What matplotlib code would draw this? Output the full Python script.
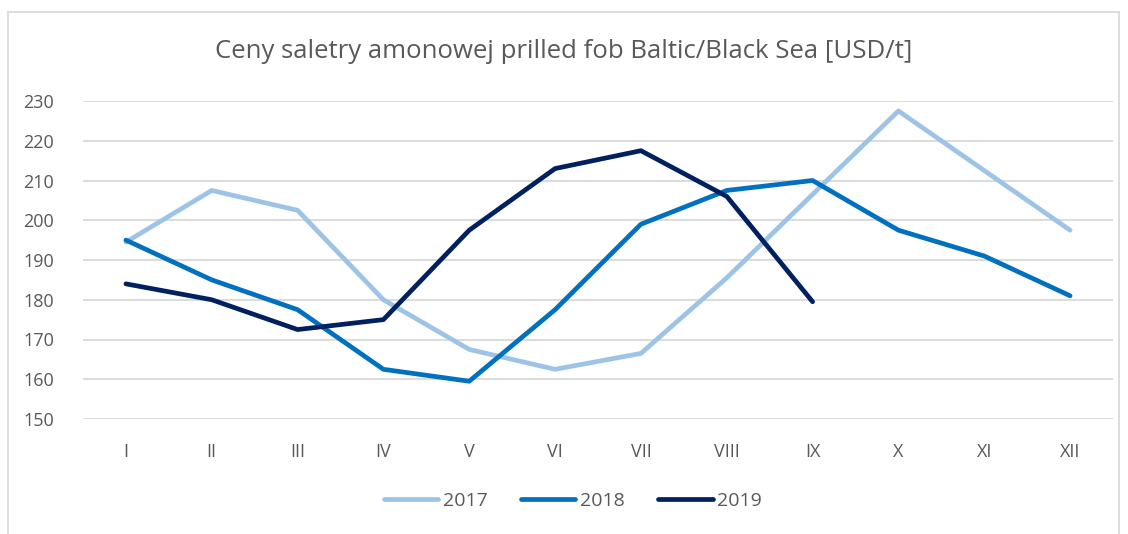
import matplotlib.pyplot as plt
from matplotlib.patches import Rectangle

months = ["I", "II", "III", "IV", "V", "VI", "VII", "VIII", "IX", "X", "XI", "XII"]
prices_2017 = [194.5, 207.5, 202.5, 180, 167.5, 162.5, 166.5, 185.5, 206.5, 227.5, 212.5, 197.5]
prices_2018 = [195, 185, 177.5, 162.5, 159.5, 177.5, 199, 207.5, 210, 197.5, 191, 181]
prices_2019 = [184, 180, 172.5, 175, 197.5, 213, 217.5, 206, 179.5]

plt.rcParams["font.family"] = ["Open Sans", "DejaVu Sans"]
text_color = "#595959"

fig = plt.figure(figsize=(11.28, 5.34), dpi=100)
ax = fig.add_axes([83 / 1128, 1 - 419 / 534, 1030 / 1128, 318 / 534])

x = list(range(len(months)))
ax.plot(x, prices_2017, color="#9DC3E6", lw=3.4, solid_capstyle="round", solid_joinstyle="round", label="2017")
ax.plot(x, prices_2018, color="#0070C0", lw=3.4, solid_capstyle="round", solid_joinstyle="round", label="2018")
ax.plot(x[:len(prices_2019)], prices_2019, color="#002060", lw=3.4, solid_capstyle="round",
        solid_joinstyle="round", label="2019")

ax.set_xlim(-0.5, 11.5)
ax.set_ylim(150, 230)
ax.set_yticks(range(150, 231, 10))
ax.set_xticks(x)
ax.set_xticklabels(months)
ax.grid(axis="y", color="#D9D9D9", lw=1.3)
ax.set_axisbelow(True)
for s in ax.spines.values():
    s.set_visible(False)
ax.tick_params(length=0, labelsize=13, labelcolor=text_color)
ax.tick_params(axis="x", pad=17)
ax.tick_params(axis="y", pad=21)

fig.text(0.5, 1 - 52 / 534, "Ceny saletry amonowej prilled fob Baltic/Black Sea [USD/t]",
         ha="center", va="center", fontsize=18.5, color=text_color)

fig.legend(loc="center", bbox_to_anchor=(0.508, 1 - 501 / 534), ncol=3, frameon=False,
           fontsize=14, labelcolor=text_color, handlelength=2.8, handletextpad=0.25,
           columnspacing=1.7)

fig.patches.append(Rectangle((8 / 1128, -0.05), 1111 / 1128, 1.05 - 12 / 534,
                             transform=fig.transFigure, fill=False, ec="#D9D9D9", lw=1.3))

fig.savefig("out.png", dpi=100)
